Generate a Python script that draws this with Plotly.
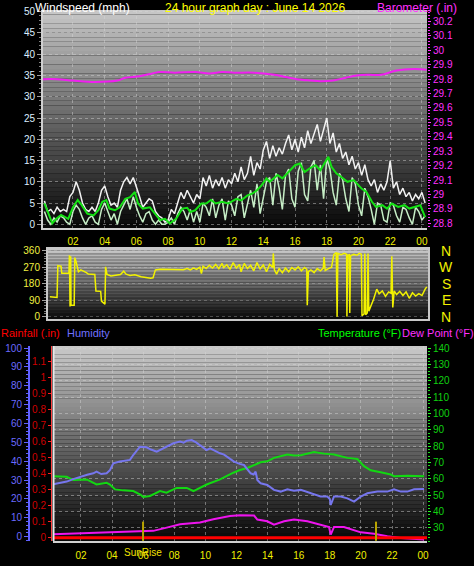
import plotly.graph_objects as go

W, H = 474, 566

# ---------------- data ----------------
hour_ticks = [2, 4, 6, 8, 10, 12, 14, 16, 18, 20, 22, 24]
hour_labels = ["02", "04", "06", "08", "10", "12", "14", "16", "18", "20", "22", "00"]

# wind gust / speed sampled every 12 minutes from 00:12
wind_gust = [5.5, 3.0, 3.5, 2.5, 4.0, 3.0, 3.5, 3.0, 6.5, 7.5,
             10.0, 8.0, 5.0, 3.5, 3.0, 4.0, 3.0, 5.0, 8.0, 9.0,
             6.5, 4.5, 5.0, 4.0, 8.0, 10.0, 11.0, 9.5, 11.0, 9.0,
             6.5, 4.0, 5.0, 6.0, 5.5, 3.0, 2.0, 1.5, 0.5, 1.0,
             3.5, 2.5, 5.0, 7.5, 6.0, 8.0, 6.5, 5.0, 7.0, 6.0,
             11.0, 9.0, 11.5, 8.5, 10.5, 9.0, 11.0, 8.5, 10.5, 9.5,
             12.0, 10.0, 13.5, 10.5, 12.0, 16.0, 11.5, 14.5, 13.0, 17.5,
             19.5, 15.5, 18.5, 16.0, 18.0, 16.5, 19.0, 21.0, 17.5, 20.0,
             17.0, 20.5, 18.0, 22.0, 19.0, 21.0, 23.5, 19.5, 22.0, 25.0,
             19.0, 21.5, 17.0, 19.0, 15.5, 17.0, 14.0, 16.0, 13.0, 14.5,
             11.5, 14.0, 10.5, 9.0, 10.5, 7.5, 9.5, 8.0, 10.0, 15.0,
             8.5, 10.0, 7.0, 8.5, 6.5, 7.5, 5.5, 7.0, 6.0, 7.5, 5.0]
wind_speed = [3.0, 1.0, 0.0, 1.5, 0.5, 2.0, 1.5, 0.5, 0.0, 3.0,
              4.5, 3.5, 1.5, 0.0, 1.5, 2.0, 0.5, 0.0, 3.5, 5.0,
              3.0, 1.0, 2.5, 0.0, 3.0, 4.5, 6.0, 3.5, 6.5, 4.0,
              2.0, 0.5, 2.5, 3.0, 1.0, 0.0, 1.0, 0.0, 0.0, 0.5,
              1.5, 0.0, 2.5, 4.0, 3.0, 1.0, 3.5, 0.5, 3.0, 0.5,
              5.0, 4.0, 2.0, 6.0, 1.5, 4.5, 6.0, 1.0, 5.5, 4.5,
              2.0, 6.5, 7.0, 1.5, 5.0, 8.0, 4.0, 9.5, 2.5, 6.0,
              10.0, 11.0, 4.5, 12.0, 8.5, 3.5, 11.5, 13.0, 6.0, 4.0,
              12.5, 14.5, 7.0, 5.5, 13.5, 15.0, 8.0, 14.0, 6.0, 15.5,
              13.0, 7.5, 4.5, 12.0, 10.5, 6.0, 3.0, 11.0, 9.5, 4.5,
              2.0, 8.5, 6.5, 3.5, 0.0, 5.0, 4.5, 1.0, 0.5, 5.0,
              4.5, 2.0, 0.5, 4.0, 3.5, 1.5, 0.0, 4.0, 3.0, 1.0, 2.0]
wind_hours = [round(0.2 + 0.2 * i, 2) for i in range(len(wind_gust))]

avg_hours = [0.2, 0.45, 0.7, 0.95, 1.25, 1.45, 1.7, 2.0, 2.3, 2.55, 2.9, 3.3, 3.6, 3.85,
             4.1, 4.3, 4.65, 4.95, 5.3, 5.6, 5.9, 6.1, 6.4, 6.85, 7.2, 7.5, 7.8, 8.1,
             8.5, 8.9, 9.2, 9.4, 9.7, 10.1, 10.4, 10.7, 11.0, 11.4, 11.8, 12.3, 12.6,
             13.0, 13.3, 13.6, 13.9, 14.2, 14.4, 14.9, 15.2, 15.6, 16.0, 16.3, 16.6,
             16.9, 17.3, 17.6, 17.9, 18.1, 18.3, 18.6, 18.9, 19.3, 19.7, 20.2, 20.5,
             20.85, 21.1, 21.5, 21.8, 22.1, 22.5, 22.9, 23.2, 23.6, 23.9, 24.2]
wind_avg = [4.9, 2.5, 0.2, 1.3, 2.2, 1.8, 1.3, 4.0, 5.7, 4.5, 2.5, 2.1, 3.3, 5.3,
            5.7, 3.7, 3.3, 4.0, 6.0, 6.4, 7.6, 4.9, 3.7, 4.0, 2.5, 1.0, 1.3, 0.2,
            1.3, 3.7, 3.9, 2.9, 3.3, 4.9, 4.9, 5.7, 4.9, 5.3, 4.9, 6.0, 5.6,
            6.8, 7.2, 8.0, 9.2, 10.8, 10.0, 11.6, 10.8, 12.3, 13.9, 14.3, 12.3,
            13.1, 13.9, 12.7, 14.7, 15.9, 13.5, 12.0, 11.2, 10.0, 10.4, 8.4, 7.6,
            5.3, 4.1, 4.5, 3.7, 4.9, 4.1, 4.5, 3.7, 4.1, 4.5, 1.7]

baro_hours = [0.11, 1.0, 2.0, 3.4, 4.8, 5.3, 6.2, 7.0, 7.5, 8.4, 9.7, 10.6, 11.4, 12.15,
              13.4, 14.7, 15.4, 16.1, 17.0, 17.6, 18.4, 19.2, 19.9, 20.6, 21.4, 22.4,
              23.5, 24.3]
baro = [29.80, 29.80, 29.79, 29.78, 29.79, 29.81, 29.82, 29.84, 29.85, 29.845, 29.85,
        29.84, 29.85, 29.845, 29.845, 29.83, 29.815, 29.80, 29.79, 29.785, 29.79, 29.81,
        29.825, 29.83, 29.83, 29.86, 29.87, 29.865]
baro_ticks = [28.8, 28.9, 29.0, 29.1, 29.2, 29.3, 29.4, 29.5, 29.6, 29.7, 29.8, 29.9,
              30.0, 30.1, 30.2]
baro_labels = ["28.8", "28.9", "29", "29.1", "29.2", "29.3", "29.4", "29.5", "29.6",
               "29.7", "29.8", "29.9", "30", "30.1", "30.2"]

dir_hours = [0.55, 1.0, 1.05, 1.25, 1.3, 1.75, 1.78, 1.82, 1.86, 1.88, 2.08, 2.12, 2.2,
             2.35, 2.5, 2.65, 2.85, 2.97, 3.2, 3.38, 3.45, 3.75, 3.8, 3.95, 4.02, 4.06,
             4.15, 4.4, 4.7, 5.0, 5.2, 5.35, 5.6, 5.9, 6.3, 6.6, 6.9, 7.05, 7.2, 7.5,
             8.0, 8.5, 8.96, 9.2, 9.4, 9.6, 9.8, 10.0, 10.1, 10.2, 10.4, 10.6, 10.8,
             11.0, 11.2, 11.4, 11.5, 11.7, 11.9, 12.1, 12.3, 12.5, 12.6, 12.8, 13.0,
             13.2, 13.4, 13.6, 13.8, 14.0, 14.2, 14.4, 14.6, 14.63, 14.7, 14.84, 15.0,
             15.2, 15.4, 15.6, 15.8, 16.0, 16.2, 16.4, 16.6, 16.74, 16.77, 16.84, 17.0,
             17.2, 17.4, 17.6, 17.78, 17.83, 17.9, 18.1, 18.3, 18.45, 18.6, 18.65, 18.7,
             18.9, 19.1, 19.25, 19.27, 19.32, 19.42, 19.45, 19.5, 19.7, 19.9, 20.05,
             20.18, 20.22, 20.35, 20.4, 20.45, 20.55, 20.6, 20.65, 20.8, 20.95, 21.15,
             21.3, 21.5, 21.7, 21.9, 22.05, 22.1, 22.16, 22.25, 22.4, 22.6, 22.8, 23.0,
             23.2, 23.4, 23.6, 23.8, 24.0, 24.2, 24.3]
wind_dir = [108, 105, 278, 275, 236, 236, 335, 55, 330, 62, 62, 322, 300,
            245, 255, 250, 240, 232, 230, 230, 140, 138, 85, 70, 68, 272,
            230, 222, 225, 230, 248, 232, 225, 228, 218, 212, 210, 212, 255, 258,
            257, 258, 256, 262, 255, 265, 258, 270, 235, 275, 262, 280, 265,
            285, 262, 290, 268, 283, 258, 295, 265, 285, 245, 290, 262,
            280, 250, 295, 260, 282, 245, 285, 268, 345, 255, 232, 262,
            240, 265, 245, 268, 255, 272, 250, 268, 258, 62, 245, 255,
            240, 262, 250, 265, 325, 252, 262, 270, 340, 350, 0, 345,
            338, 345, 340, 0, 335, 338, 20, 332, 340, 335, 345,
            340, 5, 15, 345, 10, 20, 345, 30, 60, 95, 150,
            125, 140, 110, 135, 128, 330, 50, 140, 120, 138, 115, 135,
            100, 130, 112, 125, 115, 150, 162]
dir_ticks = [0, 90, 180, 270, 360]
dir_letters = ["N", "E", "S", "W", "N"]

hum_hours = [0.22, 0.6, 1.08, 1.5, 1.94, 2.4, 2.79, 3.0, 3.3, 3.65, 3.86, 4.08, 4.5, 4.94,
             5.15, 5.36, 5.6, 5.79, 6.22, 6.5, 6.87, 7.29, 7.72, 7.94, 8.37, 8.6, 8.8,
             9.12, 9.4, 9.65, 10.08, 10.3, 10.51, 10.94, 11.2, 11.58, 11.84, 12.2, 12.48,
             12.91, 13.1, 13.23, 13.34, 13.55, 13.98, 14.41, 14.84, 15.27, 15.7, 16.13,
             16.5, 16.77, 17.1, 17.41, 17.84, 18.0, 18.06, 18.2, 18.27, 18.7, 19.13,
             19.56, 19.99, 20.41, 21.06, 21.7, 22.13, 22.56, 22.99, 23.42, 24.06]
humidity = [27.8, 28.5, 29.2, 30.5, 31.8, 32.8, 33.6, 34.5, 33.2, 33.6, 35.3, 38.9, 39.8,
            40.3, 40.7, 43.3, 46.0, 47.7, 47.4, 46.2, 45.1, 46.8, 48.6, 49.5, 50.4, 49.8,
            50.9, 51.2, 50.0, 48.6, 45.9, 46.8, 45.9, 44.2, 43.5, 41.5, 39.8, 38.6, 38.0,
            33.6, 33.0, 34.5, 30.1, 28.3, 27.4, 24.8, 23.9, 25.1, 24.3, 24.8,
            23.8, 23.0, 22.2, 21.3, 21.3, 20.0, 16.8, 19.5, 21.3, 21.3, 20.3,
            18.6, 21.3, 23.0, 23.9, 23.9, 25.1, 23.9, 23.9, 25.1, 25.3]

temp_hours = [0.22, 1.08, 1.51, 2.37, 3.0, 3.65, 3.86, 4.19, 4.72, 5.36, 5.79, 6.0, 6.44,
              7.08, 7.5, 8.15, 8.8, 9.23, 10.08, 10.94, 11.8, 12.22, 12.7, 13.55, 13.98,
              14.41, 15.27, 15.7, 16.13, 16.98, 17.63, 18.27, 19.13, 19.77, 20.2, 20.63,
              21.27, 21.92, 22.13, 22.99, 24.06]
temperature = [61.7, 61.3, 59.3, 59.7, 56.6, 57.6, 56.6, 53.6, 53.0, 52.6, 50.6, 49.0, 49.6,
               52.6, 51.6, 54.5, 54.5, 52.6, 56.6, 59.7, 63.8, 65.5, 66.7, 70.2, 70.8,
               72.9, 74.9, 74.3, 74.5, 76.5, 75.5, 74.9, 72.9, 72.2, 67.8, 65.3,
               64.1, 62.7, 61.6, 62.0, 61.6]

dew_hours = [0.22, 3.22, 5.79, 6.65, 7.51, 8.37, 9.65, 10.51, 11.58, 12.22, 13.13, 13.34,
             13.98, 14.41, 15.06, 15.7, 16.56, 17.41, 17.95, 18.06, 18.27, 18.91, 19.56,
             19.99, 20.84, 21.7, 22.56, 24.06]
dewpoint = [26.2, 27.2, 27.6, 28.2, 30.2, 32.2, 33.3, 35.3, 37.3, 37.7, 37.6, 35.1,
            34.1, 32.0, 34.1, 35.1, 34.1, 32.0, 30.6, 25.9, 30.6, 30.6, 28.6,
            27.3, 26.5, 24.9, 23.9, 22.9]

rain_hours = [0.2, 24.25]
rainfall = [0.0, 0.0]
rain_ticks = [0.0, 0.1, 0.2, 0.3, 0.4, 0.5, 0.6, 0.7, 0.8, 0.9, 1.0, 1.1]
rain_labels = ["0", "0.1", "0.2", "0.3", "0.4", "0.5", "0.6", "0.7", "0.8", "0.9", "1", "1.1"]

sunrise_hour = 5.99
sunset_hour = 20.97
sun_bar = [-0.02, 0.1]

# ---------------- layout helpers ----------------
FONT = "Liberation Sans, Arial, sans-serif"


def fx(px):
    return px / W


def fy(py):
    return 1 - py / H


TOP = (43, 427, 10, 228)
MID = (48, 428, 249, 319)
BOT = (53, 427, 346, 541)

shapes = []


def gradient(box, c_top, c_bot, n=48):
    x0, x1, y0, y1 = box
    for i in range(n):
        t = i / (n - 1)
        c = round(c_top + (c_bot - c_top) * t)
        shapes.append(dict(type="rect", xref="paper", yref="paper",
                           x0=fx(x0), x1=fx(x1),
                           y0=fy(y0 + (y1 - y0) * i / n), y1=fy(y0 + (y1 - y0) * (i + 1) / n),
                           fillcolor=f"rgb({c},{c},{c})", line_width=0, layer="below"))


gradient(TOP, 198, 8)
gradient(MID, 200, 12)
gradient(BOT, 200, 8)
# left border of the lower plot
shapes.append(dict(type="line", xref="paper", yref="paper", x0=fx(53.5), x1=fx(53.5),
                   y0=fy(BOT[2]), y1=fy(BOT[3]), line=dict(color="#e8e8e8", width=2),
                   layer="above"))

GRID = "rgba(215,215,215,0.45)"

fig = go.Figure()

# --- top panel ---
fig.add_trace(go.Scatter(x=wind_hours, y=wind_gust, mode="lines",
                         line=dict(color="#f2f2f2", width=1.5), xaxis="x", yaxis="y"))
fig.add_trace(go.Scatter(x=wind_hours, y=wind_speed, mode="lines",
                         line=dict(color="#c6eec6", width=1.5), xaxis="x", yaxis="y"))
fig.add_trace(go.Scatter(x=avg_hours, y=wind_avg, mode="lines",
                         line=dict(color="#14e014", width=2), xaxis="x", yaxis="y"))
fig.add_trace(go.Scatter(x=baro_hours, y=baro, mode="lines", line_shape="spline",
                         line=dict(color="#f020f0", width=2), xaxis="x", yaxis="y2"))

# --- middle panel ---
fig.add_trace(go.Scatter(x=dir_hours, y=wind_dir, mode="lines",
                         line=dict(color="#f2f200", width=1.5), xaxis="x2", yaxis="y3"))

# --- bottom panel ---
fig.add_trace(go.Scatter(x=temp_hours, y=temperature, mode="lines",
                         line=dict(color="#12d812", width=2), xaxis="x3", yaxis="y4"))
fig.add_trace(go.Scatter(x=dew_hours, y=dewpoint, mode="lines",
                         line=dict(color="#ee14ee", width=2), xaxis="x3", yaxis="y4"))
fig.add_trace(go.Scatter(x=hum_hours, y=humidity, mode="lines",
                         line=dict(color="#7676ee", width=2), xaxis="x3", yaxis="y6"))
fig.add_trace(go.Scatter(x=rain_hours, y=rainfall, mode="lines",
                         line=dict(color="#ff0000", width=3), xaxis="x3", yaxis="y5"))
for sh in (sunrise_hour, sunset_hour):
    fig.add_trace(go.Scatter(x=[sh, sh], y=sun_bar, mode="lines",
                             line=dict(color="#b8a400", width=2), xaxis="x3", yaxis="y5"))

tickfont = dict(family=FONT, size=10)

fig.update_layout(
    width=W, height=H, template="none", showlegend=False, hovermode=False,
    margin=dict(l=0, r=0, t=0, b=0),
    paper_bgcolor="#000000", plot_bgcolor="rgba(0,0,0,0)",
    font=dict(family=FONT, size=10),
    shapes=shapes,
    xaxis=dict(domain=[fx(TOP[0]), fx(TOP[1])], range=[0.11, 24.32], anchor="y",
               tickvals=hour_ticks, ticktext=hour_labels,
               tickfont=dict(tickfont, color="#f0f000"), ticks="", ticklabelstandoff=3,
               showgrid=True, gridcolor=GRID, griddash="dot", zeroline=False,
               showline=True, linecolor="#d0d0d0", linewidth=2, automargin=False),
    yaxis=dict(domain=[fy(TOP[3]), fy(TOP[2])], range=[-0.87, 50.4], anchor="x",
               dtick=5, tick0=0, tickfont=dict(tickfont, color="#dceeff"),
               ticks="outside", ticklen=4, tickcolor="#a0a0a0",
               minor=dict(dtick=1, ticks="outside", ticklen=2, tickcolor="#808080", showgrid=False),
               showgrid=True, gridcolor=GRID, griddash="dot", zeroline=False,
               showline=True, linecolor="#d0d0d0", linewidth=2, automargin=False),
    yaxis2=dict(overlaying="y", side="right", anchor="x", range=[28.767, 30.28],
                tickvals=baro_ticks, ticktext=baro_labels,
                tickfont=dict(tickfont, color="#ff30ff"),
                ticks="outside", ticklen=3, tickcolor="#ff30ff",
                minor=dict(dtick=0.02, tick0=28.8, ticks="outside", ticklen=2,
                           tickcolor="#ff30ff", showgrid=False),
                showgrid=False, zeroline=False, showline=False, automargin=False),
    xaxis2=dict(domain=[fx(MID[0]), fx(MID[1])], range=[0.43, 24.38], anchor="y3",
                showticklabels=False, ticks="", showgrid=False, zeroline=False,
                showline=True, linecolor="#c8c8c8", linewidth=2, mirror=True, automargin=False),
    yaxis3=dict(domain=[fy(MID[3]), fy(MID[2])], range=[-13, 369], anchor="x2",
                tickvals=dir_ticks, tickfont=dict(tickfont, color="#f0f040"),
                ticks="outside", ticklen=4, tickcolor="#a0a0a0",
                minor=dict(dtick=15, ticks="outside", ticklen=2, tickcolor="#808080", showgrid=False),
                showgrid=True, gridcolor="rgba(215,215,215,0.3)", griddash="dot",
                zeroline=False, showline=True, linecolor="#c8c8c8", linewidth=2, mirror=True,
                automargin=False),
    xaxis3=dict(domain=[fx(BOT[0]), fx(BOT[1])], range=[0.2, 24.25], anchor="y4",
                tickvals=hour_ticks, ticktext=hour_labels,
                tickfont=dict(tickfont, color="#f0f000"), ticks="", ticklabelstandoff=4,
                showgrid=True, gridcolor=GRID, griddash="dot", zeroline=False,
                showline=True, linecolor="#d0d0d0", linewidth=2, automargin=False),
    yaxis4=dict(domain=[fy(BOT[3]), fy(BOT[2])], range=[22.0, 141.4], anchor="x3", side="right",
                dtick=10, tick0=0, tickfont=dict(tickfont, color="#10d010"),
                ticks="outside", ticklen=3, tickcolor="#20ff20",
                minor=dict(dtick=2, ticks="outside", ticklen=2, tickcolor="#20e020", showgrid=False),
                showgrid=True, gridcolor=GRID, griddash="dot", zeroline=False,
                showline=False, automargin=False),
    yaxis5=dict(overlaying="y4", anchor="free", position=fx(51), side="left",
                range=[-0.021, 1.198], tickvals=rain_ticks, ticktext=rain_labels,
                tickfont=dict(tickfont, color="#d00000"),
                ticks="outside", ticklen=3, tickcolor="#ff2020",
                showgrid=False, zeroline=False,
                showline=True, linecolor="#ff4040", linewidth=1, automargin=False),
    yaxis6=dict(overlaying="y4", anchor="free", position=fx(29), side="left",
                range=[-2.3, 101.1], dtick=10, tick0=0,
                tickfont=dict(tickfont, color="#6a6aff"),
                ticks="outside", ticklen=4, tickcolor="#6060ff",
                minor=dict(dtick=2, ticks="outside", ticklen=2, tickcolor="#6060ff", showgrid=False),
                showgrid=False, zeroline=False,
                showline=True, linecolor="#6060ff", linewidth=2, automargin=False),
)

ann = []


def label(text, xpx, ypx, color, size=11, xanchor="left", yanchor="middle"):
    ann.append(dict(text=text, xref="paper", yref="paper", x=fx(xpx), y=fy(ypx),
                    xanchor=xanchor, yanchor=yanchor, showarrow=False, borderpad=0,
                    font=dict(family=FONT, size=size, color=color)))


label("Windspeed (mph)", 34, 0, "#ffffff", 12, yanchor="top")
label("24 hour graph day : June 14 2026", 255, 0, "#ffff00", 12, "center", yanchor="top")
label("Barometer (.in)", 376, 0, "#ff30ff", 12, yanchor="top")
label("Rainfall (.in)", 0, 333, "#ff0000", 11)
label("Humidity", 66, 333, "#7070ff", 11)
label("Temperature (°F)", 317, 333, "#00ff00", 11)
label("Dew Point (°F)", 401, 333, "#ff30ff", 11)

for v, letter in zip(dir_ticks, dir_letters):
    ann.append(dict(text=letter, xref="paper", yref="y3", x=fx(446), y=v,
                    xanchor="center", yanchor="middle", showarrow=False,
                    font=dict(family=FONT, size=14, color="#f0f000")))

ann.append(dict(text="SunRise", xref="x3", yref="paper", x=sunrise_hour, y=fy(552),
                xanchor="center", yanchor="middle", showarrow=False,
                font=dict(family=FONT, size=10, color="#f0e000")))

fig.update_layout(annotations=ann)

fig.write_html(
    "out.html",
    config={"displayModeBar": False},
    post_script="document.body.style.margin='0';document.body.style.padding='0';"
                "document.body.style.overflow='hidden';",
)
